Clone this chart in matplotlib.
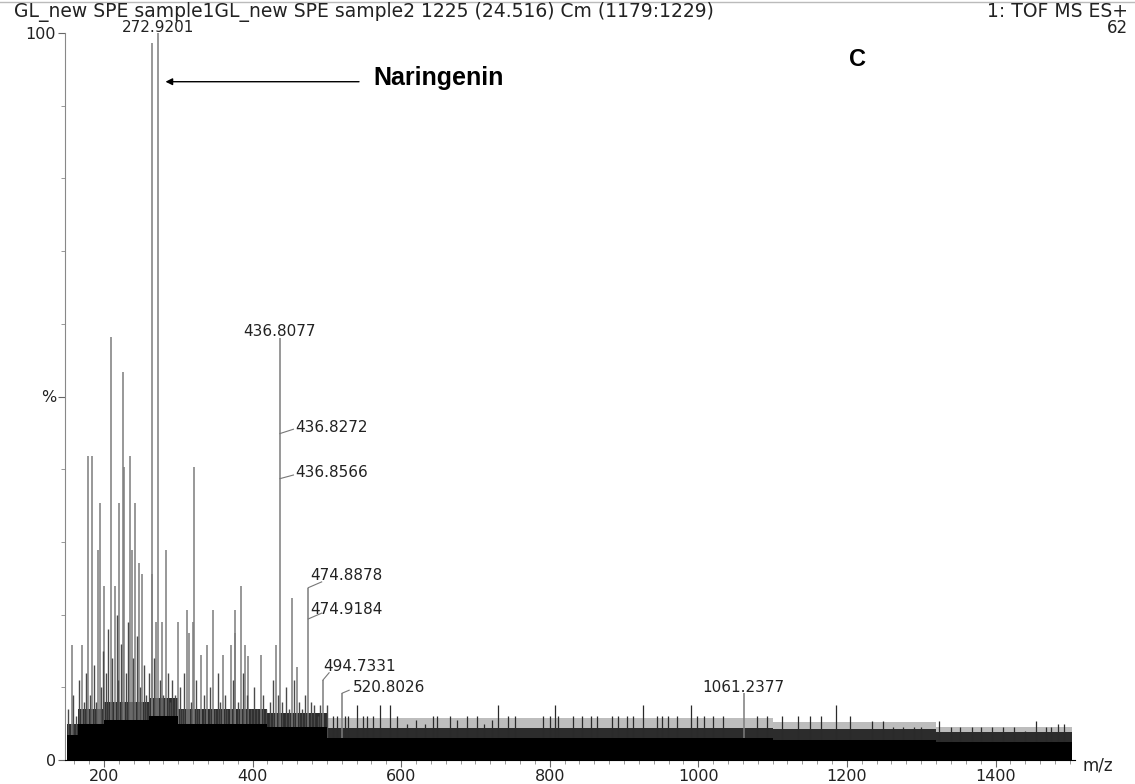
import matplotlib.pyplot as plt
from matplotlib.lines import Line2D
from matplotlib.ticker import MultipleLocator, FixedLocator

# tall / labelled peaks (m/z, relative intensity %)
main_mz = [156.5, 170.0, 178.9, 183.4, 192.3, 194.6, 200.0, 209.4, 214.8, 220.6,
           226.0, 227.3, 235.4, 237.3, 241.7, 247.1, 251.5, 264.1, 265.0, 270.0,
           272.92, 277.7, 283.4, 299.1, 311.3, 314.0, 320.2, 321.1, 330.1, 339.0,
           346.3, 359.8, 370.5, 376.3, 376.7, 384.0, 389.8, 394.2, 410.9, 431.5,
           436.81, 452.6, 459.4, 474.89, 494.73, 520.80, 1061.24]
main_int = [15.8, 15.8, 41.8, 41.8, 28.9, 35.4, 24.0, 58.2, 24.0, 35.4,
            53.4, 40.3, 41.8, 28.9, 35.4, 27.1, 25.6, 25.6, 98.6, 19.0,
            100.0, 19.0, 28.9, 19.0, 20.6, 17.5, 19.0, 40.3, 14.4, 15.8,
            20.6, 14.4, 15.8, 17.5, 20.6, 23.9, 15.8, 14.3, 14.4, 15.8,
            58.0, 22.3, 12.8, 23.7, 11.0, 9.2, 9.2]

# medium peaks in the low-mass cluster
mid_mz = [152, 158, 162, 166, 173, 176, 181, 186, 189, 196, 198, 203, 206, 211,
          217, 219, 223, 229, 232, 239, 244, 249, 254, 257, 260, 267, 275, 279,
          286, 289, 292, 296, 302, 305, 308, 317, 324, 327, 334, 343, 350, 353,
          356, 363, 366, 373, 380, 387, 392, 398, 402, 406, 414, 418, 423, 427,
          434, 440, 445, 449, 456, 463, 467, 471, 478, 483, 488, 490.7, 499.7]
mid_int = [7, 9, 6, 11, 8, 12, 9, 13, 8, 10, 15, 12, 18, 14,
           20, 11, 16, 12, 19, 14, 17, 10, 13, 9, 12, 14, 11, 9,
           12, 8, 11, 9, 10, 7, 12, 8, 11, 7, 9, 10, 7, 12,
           8, 9, 7, 11, 8, 12, 9, 7, 10, 7, 9, 7, 8, 11,
           9, 8, 10, 7, 11, 8, 7, 9, 8, 7.6, 6, 7.6, 7.6]

# small peaks above the noise floor, higher masses
grass_mz = [508.6, 513.2, 524.4, 528.8, 540.9, 549.0, 553.6, 562.4, 571.5, 584.9,
            593.9, 608, 620, 632, 643.2, 647.8, 665.7, 675, 688.2, 701.6,
            712, 722, 730.7, 744.2, 753.2, 791.3, 800.3, 807.0, 811.5, 830.8,
            842.9, 855.0, 863.1, 883.3, 892.2, 903.5, 912.4, 925.0, 943.9, 950.6,
            959.5, 970.8, 989.6, 997.7, 1007.5, 1020.0, 1033.5, 1079.3, 1091.9, 1113.0,
            1134.5, 1150.2, 1165.0, 1184.8, 1204.6, 1234.3, 1249.0, 1262, 1275, 1290,
            1300, 1323.4, 1340, 1352, 1368, 1380, 1395, 1410, 1425, 1439.6,
            1454.4, 1468, 1475, 1484.3, 1491.7]
grass_int = [6, 6, 6, 6, 7.6, 6, 6, 6, 7.6, 7.6,
             6, 5, 5.5, 5, 6, 6, 6, 5.5, 6, 6,
             5, 5.5, 7.6, 6, 6, 6, 6, 7.6, 6, 6,
             6, 6, 6, 6, 6, 6, 6, 7.6, 6, 6,
             6, 6, 7.6, 6, 6, 6, 6, 6, 6, 6,
             6, 6, 6, 7.6, 6, 5.4, 5.4, 4.5, 4.5, 4.5,
             4.5, 5.4, 4.5, 4.5, 4.5, 4.5, 4.5, 4.5, 4.5, 4.0,
             5.4, 4.5, 4.5, 5, 5]

# noise floor: solid part, dense dark comb, sparse light comb
band_edges = [150, 165, 200, 260, 300, 420, 500, 1100, 1320, 1503]
band_solid = [3.5, 5.0, 5.5, 6.0, 5.0, 4.5, 3.0, 2.8, 2.5]
band_comb = [5.0, 7.0, 8.0, 8.5, 7.0, 6.5, 4.4, 4.2, 3.8]
band_light = [5.0, 7.0, 8.0, 8.5, 7.0, 6.5, 5.8, 5.2, 4.6]

W, H = 1135, 784
fig = plt.figure(figsize=(W / 100, H / 100), dpi=100)
ax = fig.add_axes([65 / W, 24 / H, 1010 / W, 727 / H])
ax.set_xlim(147.5, 1507)
ax.set_ylim(0, 100)

ax.fill_between(band_edges, 0, band_light + band_light[-1:], step='post',
                color='#bdbdbd', lw=0, zorder=1)
ax.fill_between(band_edges, 0, band_comb + band_comb[-1:], step='post',
                color='#2c2c2c', lw=0, zorder=1)
ax.vlines(main_mz, 0, main_int, colors='#7c7c7c', lw=1.1, zorder=2)
ax.vlines(mid_mz, 0, mid_int, colors='#4a4a4a', lw=1.0, zorder=2)
ax.vlines(grass_mz, 0, grass_int, colors='#2a2a2a', lw=0.9, zorder=2)
ax.fill_between(band_edges, 0, band_solid + band_solid[-1:], step='post',
                color='black', lw=0, zorder=3)

for s in ['top', 'right']:
    ax.spines[s].set_visible(False)
ax.spines['left'].set_color('#888888')
ax.spines['bottom'].set_color('black')

ax.yaxis.set_major_locator(FixedLocator([0, 50, 100]))
ax.yaxis.set_minor_locator(MultipleLocator(10))
ax.set_yticklabels(['0', '%', '100'])
ax.xaxis.set_major_locator(MultipleLocator(200))
ax.xaxis.set_minor_locator(MultipleLocator(20))
ax.tick_params(which='major', length=5, color='#666666', labelsize=11.5,
               labelcolor='#222222', pad=1.5)
ax.tick_params(which='minor', length=3, color='#888888')
for t in ax.get_xticklabels() + ax.get_yticklabels():
    t.set_family('DejaVu Sans')

lab = dict(fontsize=11, color='#222222', family='DejaVu Sans', clip_on=False)
ax.text(272.92, 100.75, '272.9201', ha='center', va='center', **lab)
ax.text(436.81, 58.9, '436.8077', ha='center', va='center', **lab)
ax.text(457, 45.8, '436.8272', ha='left', va='center', **lab)
ax.text(457, 39.5, '436.8566', ha='left', va='center', **lab)
ax.text(477.5, 25.4, '474.8878', ha='left', va='center', **lab)
ax.text(477.5, 20.7, '474.9184', ha='left', va='center', **lab)
ax.text(495, 12.8, '494.7331', ha='left', va='center', **lab)
ax.text(535, 10.0, '520.8026', ha='left', va='center', **lab)
ax.text(1061.24, 10.0, '1061.2377', ha='center', va='center', **lab)

lead = dict(color='#777777', lw=0.8)
ax.plot([436.81, 455], [44.9, 45.5], **lead)
ax.plot([436.81, 455], [38.7, 39.2], **lead)
ax.plot([474.89, 493], [23.7, 24.5], **lead)
ax.plot([474.89, 493], [19.4, 20.2], **lead)
ax.plot([494.73, 503], [11.0, 12.0], **lead)
ax.plot([520.80, 530], [9.2, 9.6], **lead)

ax.annotate('', xy=(279, 93.3), xytext=(547, 93.3),
            arrowprops=dict(arrowstyle='-|>', color='black', lw=1.0,
                            mutation_scale=10))
ax.text(562, 93.8, 'Naringenin', fontsize=18, fontweight='bold',
        family='Liberation Sans', ha='left', va='center')
ax.text(1214, 96.3, 'C', fontsize=17, fontweight='bold',
        family='Liberation Sans', ha='center', va='center')

fig.text(14 / W, 1 - 11.5 / H,
         'GL_new SPE sample1GL_new SPE sample2 1225 (24.516) Cm (1179:1229)',
         fontsize=13.5, family='DejaVu Sans', color='#222222', va='center')
fig.text(1128 / W, 1 - 11.5 / H, '1: TOF MS ES+', fontsize=13.5,
         family='DejaVu Sans', color='#222222', va='center', ha='right')
fig.text(1128 / W, 1 - 28 / H, '62', fontsize=12,
         family='DejaVu Sans', color='#222222', va='center', ha='right')
fig.text(1083 / W, 1 - 766 / H, 'm/z', fontsize=12,
         family='DejaVu Sans', color='#222222', va='center', ha='left')
fig.add_artist(Line2D([0, 1], [1 - 2 / H, 1 - 2 / H], color='#bbbbbb', lw=1.0))

fig.savefig('out.png', dpi=100)
